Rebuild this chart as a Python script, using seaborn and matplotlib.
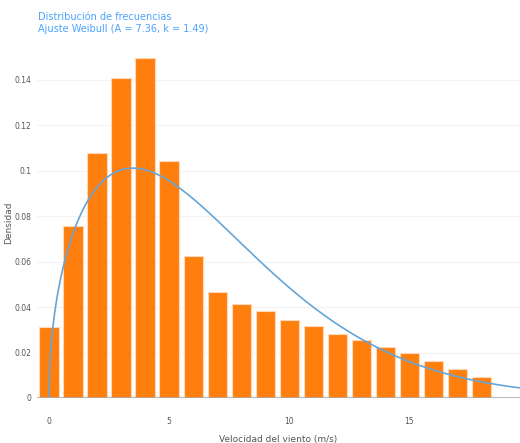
import numpy as np
import pandas as pd
import matplotlib
matplotlib.use("Agg")
import matplotlib.pyplot as plt
import seaborn as sns

# Histogram of wind speed (density per 1 m/s bin)
velocidad = list(range(19))
densidad = [0.031, 0.0756, 0.1077, 0.1405, 0.1495, 0.1044, 0.0624, 0.0468,
            0.0413, 0.0384, 0.0345, 0.0318, 0.0281, 0.0255, 0.0224, 0.0200,
            0.0163, 0.0129, 0.0094]

# Fitted Weibull parameters
A = 7.36
k = 1.49

y_ticks = [0, 0.02, 0.04, 0.06, 0.08, 0.1, 0.12, 0.14]
y_tick_labels = ["0", "0.02", "0.04", "0.06", "0.08", "0.1", "0.12", "0.14"]
x_ticks = [0, 5, 10, 15]

sns.set_style("white")
plt.rcParams["font.family"] = ["DejaVu Sans"]

df_hist = pd.DataFrame({"v": velocidad, "d": densidad})
v_fit = np.linspace(0, 20, 500)
pdf = (k / A) * (v_fit / A) ** (k - 1) * np.exp(-(v_fit / A) ** k)
df_fit = pd.DataFrame({"v": v_fit, "pdf": pdf})

fig = plt.figure(figsize=(5.2, 4.43), dpi=100)
ax = fig.add_axes([0.071, 0.1016, 0.929, 0.806])

for y in y_ticks[1:]:
    ax.axhline(y, color="#f3f3f3", lw=0.8, zorder=0)

sns.barplot(data=df_hist, x="v", y="d", native_scale=True, width=0.8,
            color="#ff7f0e", saturation=1, edgecolor="#ffd9b8", linewidth=0.8,
            ax=ax, zorder=2)
sns.lineplot(data=df_fit, x="v", y="pdf", color="#65a5d8", lw=1.2, ax=ax,
             zorder=3)

ax.axhline(0, color="#aaaaaa", lw=1.2, zorder=4)

ax.set_xlim(-0.5, 19.6)
ax.set_ylim(0, 0.157)
ax.set_xticks(x_ticks)
ax.set_xticklabels([str(t) for t in x_ticks])
ax.set_yticks(y_ticks)
ax.set_yticklabels(y_tick_labels)
ax.tick_params(axis="both", length=0, labelsize=5.5, labelcolor="#555555")
ax.tick_params(axis="x", pad=14)
ax.tick_params(axis="y", pad=4)
for s in ax.spines.values():
    s.set_visible(False)

ax.set_xlabel("Velocidad del viento (m/s)", fontsize=6.5, color="#555555",
              labelpad=6)
ax.set_ylabel("Densidad", fontsize=6.5, color="#555555")
ax.yaxis.set_label_coords(-0.05, 0.49)

fig.text(0.0725, 0.972, "Distribución de frecuencias\nAjuste Weibull (A = 7.36, k = 1.49)",
         fontsize=7, color="#4aa3ff", ha="left", va="top", linespacing=1.25)

fig.savefig("out.png", dpi=100)
